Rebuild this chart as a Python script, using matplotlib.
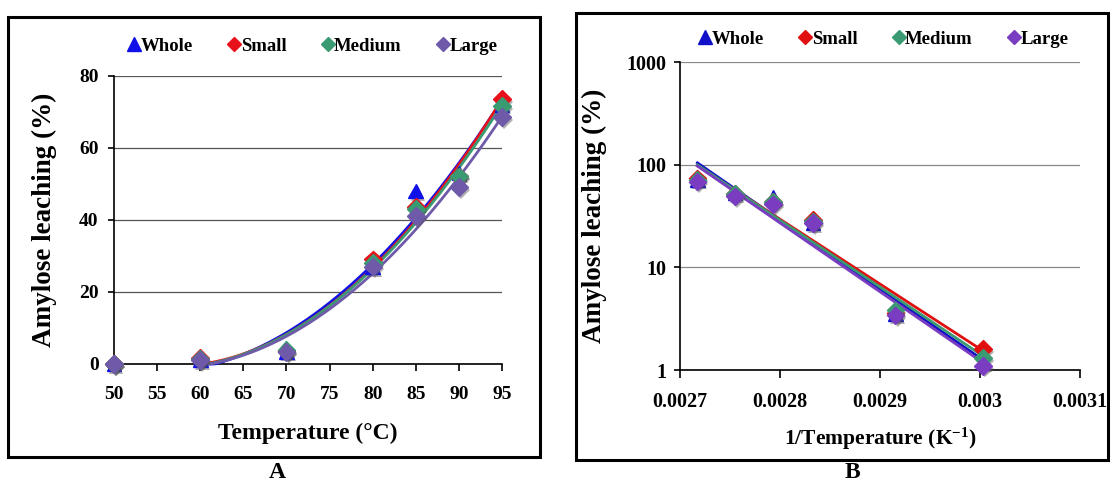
import numpy as np
import matplotlib
matplotlib.use("Agg")
import matplotlib.pyplot as plt
import matplotlib.patheffects as pe
from matplotlib.patches import Rectangle
from matplotlib.lines import Line2D
from matplotlib.ticker import FixedLocator, FixedFormatter

plt.rcParams['font.family'] = ['Liberation Serif', 'DejaVu Serif']
plt.rcParams['font.weight'] = 'bold'
plt.rcParams['mathtext.fontset'] = 'custom'
plt.rcParams['mathtext.rm'] = 'Liberation Serif:bold'
plt.rcParams['mathtext.it'] = 'Liberation Serif:bold'
plt.rcParams['mathtext.bf'] = 'Liberation Serif:bold'

# ---- data ----
temps = [50, 60, 70, 80, 85, 90, 95]
whole = [0.0, 1.2, 3.5, 27.0, 48.0, 53.0, 72.0]
small = [0.0, 1.6, 3.6, 29.0, 43.5, 52.0, 73.5]
medium = [0.0, 1.3, 3.8, 28.0, 43.0, 52.0, 71.5]
large = [0.0, 1.1, 3.4, 27.0, 41.0, 49.0, 68.5]
series_names = ['Whole', 'Small', 'Medium', 'Large']
xticks_A = [50, 55, 60, 65, 70, 75, 80, 85, 90, 95]
yticks_A = [0, 20, 40, 60, 80]
xticks_B = [0.0027, 0.0028, 0.0029, 0.0030, 0.0031]
xticklabels_B = ['0.0027', '0.0028', '0.0029', '0.003', '0.0031']
yticks_B = [1, 10, 100, 1000]

colors_A = {'Whole': '#1010E8', 'Small': '#E8101A', 'Medium': '#3A9A72', 'Large': '#6E5AA8'}
colors_B = {'Whole': '#1010C8', 'Small': '#E01010', 'Medium': '#3A9A72', 'Large': '#7A3CC0'}
markers = {'Whole': '^', 'Small': 'D', 'Medium': 'D', 'Large': 'D'}
values = {'Whole': whole, 'Small': small, 'Medium': medium, 'Large': large}

W, H = 1115, 484
fig = plt.figure(figsize=(W / 100, H / 100), dpi=100)

def fx(px):
    return px / W

def fy(py):
    return 1 - py / H

# panel frames
fig.patches.append(Rectangle((fx(8), fy(457)), fx(540) - fx(8), fy(17) - fy(457),
                             transform=fig.transFigure, fill=False, lw=2.2, ec='black'))
fig.patches.append(Rectangle((fx(576), fy(460)), fx(1108) - fx(576), fy(13) - fy(460),
                             transform=fig.transFigure, fill=False, lw=2.2, ec='black'))

shadow = [pe.SimplePatchShadow(offset=(1.5, -2), shadow_rgbFace='#555555', alpha=0.45), pe.Normal()]
lab_font = {'family': 'Liberation Serif', 'weight': 'bold'}

# ---------------- Panel A ----------------
axA = fig.add_axes([fx(114), fy(364), fx(502) - fx(114), fy(75.5) - fy(364)])
T = np.array(temps, dtype=float)
mask = T >= 60
for name in series_names:
    y = np.array(values[name])
    c = colors_A[name]
    coef = np.polyfit(T[mask], y[mask], 2)
    xs = np.linspace(60, 95, 200)
    ys = np.clip(np.polyval(coef, xs), 0, None)
    axA.plot(xs, ys, color=c, lw=2.0, zorder=3, clip_on=False)
for name in series_names:
    y = np.array(values[name])
    c = colors_A[name]
    ms = 10.5 if name == 'Whole' else 9
    axA.plot(T, y, ls='none', marker=markers[name], color=c, ms=ms, mec=c,
             zorder=4, clip_on=False, path_effects=shadow)

axA.set_xlim(50, 95)
axA.set_ylim(0, 80)
axA.xaxis.set_major_locator(FixedLocator(xticks_A))
axA.yaxis.set_major_locator(FixedLocator(yticks_A))
axA.grid(axis='y', color='#555555', lw=0.9)
axA.set_axisbelow(True)
for s in ['top', 'right']:
    axA.spines[s].set_visible(False)
axA.spines['left'].set_lw(1.2)
axA.spines['bottom'].set_lw(1.2)
axA.tick_params(axis='x', direction='out', length=5, width=1.2, labelsize=14, pad=11)
axA.tick_params(axis='y', direction='out', length=4, width=1.2, labelsize=14, pad=7)
for lab in axA.get_xticklabels() + axA.get_yticklabels():
    lab.set_fontweight('bold')
axA.set_xlabel('Temperature (°C)', fontsize=17, fontweight='bold', labelpad=14)
axA.set_ylabel('Amylose leaching (%)', fontsize=19.5, fontweight='bold', labelpad=16)

handlesA = [Line2D([], [], ls='none', marker=markers[n], color=colors_A[n],
                   ms=(10 if n == 'Whole' else 7.5), label=n) for n in series_names]
fig.legend(handles=handlesA, loc='center', bbox_to_anchor=(fx(313), fy(46)),
           ncol=4, frameon=False, handlelength=0.6, handletextpad=0.05,
           columnspacing=1.9, prop={'family': 'Liberation Serif', 'weight': 'bold', 'size': 13.5})

# ---------------- Panel B ----------------
axB = fig.add_axes([fx(680), fy(370), fx(1080) - fx(680), fy(62) - fy(370)])
invT = 1.0 / (T + 273.0)
for name in series_names:
    y = np.array(values[name])
    c = colors_B[name]
    coef = np.polyfit(invT[mask], np.log(y[mask]), 1)
    xs = np.linspace(invT[mask].min(), invT[mask].max(), 100)
    axB.plot(xs, np.exp(np.polyval(coef, xs)), color=c, lw=2.0, zorder=3)
for name in series_names:
    y = np.array(values[name])
    c = colors_B[name]
    ms = 10.5 if name == 'Whole' else 9
    axB.plot(invT[mask], y[mask], ls='none', marker=markers[name], color=c, ms=ms, mec=c,
             zorder=4, clip_on=False, path_effects=shadow)

axB.set_yscale('log')
axB.set_xlim(0.0027, 0.0031)
axB.set_ylim(1, 1000)
axB.xaxis.set_major_locator(FixedLocator(xticks_B))
axB.xaxis.set_major_formatter(FixedFormatter(xticklabels_B))
axB.yaxis.set_major_locator(FixedLocator(yticks_B))
axB.yaxis.set_major_formatter(FixedFormatter([str(v) for v in yticks_B]))
axB.yaxis.set_minor_locator(FixedLocator([]))
axB.grid(axis='y', which='major', color='#888888', lw=0.9)
axB.set_axisbelow(True)
for s in ['top', 'right']:
    axB.spines[s].set_visible(False)
axB.spines['left'].set_lw(1.2)
axB.spines['bottom'].set_lw(1.2)
axB.tick_params(axis='x', direction='out', length=6, width=1.2, labelsize=14.5, pad=10)
axB.tick_params(axis='y', direction='out', length=4, width=1.2, labelsize=14.5, pad=6)
for lab in axB.get_xticklabels() + axB.get_yticklabels():
    lab.set_fontweight('bold')
axB.set_xlabel('1/Temperature (K$^{-1}$)', fontsize=15.5, fontweight='bold', labelpad=10)
axB.set_ylabel('Amylose leaching (%)', fontsize=19.5, fontweight='bold', labelpad=14)

handlesB = [Line2D([], [], ls='none', marker=markers[n], color=colors_B[n],
                   ms=(10 if n == 'Whole' else 7.5), label=n) for n in series_names]
fig.legend(handles=handlesB, loc='center', bbox_to_anchor=(fx(884), fy(39)),
           ncol=4, frameon=False, handlelength=0.6, handletextpad=0.05,
           columnspacing=1.9, prop={'family': 'Liberation Serif', 'weight': 'bold', 'size': 13.5})

# panel letters
fig.text(fx(277), fy(473), 'A', ha='center', va='center', fontsize=17, fontweight='bold')
fig.text(fx(852), fy(473), 'B', ha='center', va='center', fontsize=17, fontweight='bold')

fig.savefig('out.png', dpi=100)
